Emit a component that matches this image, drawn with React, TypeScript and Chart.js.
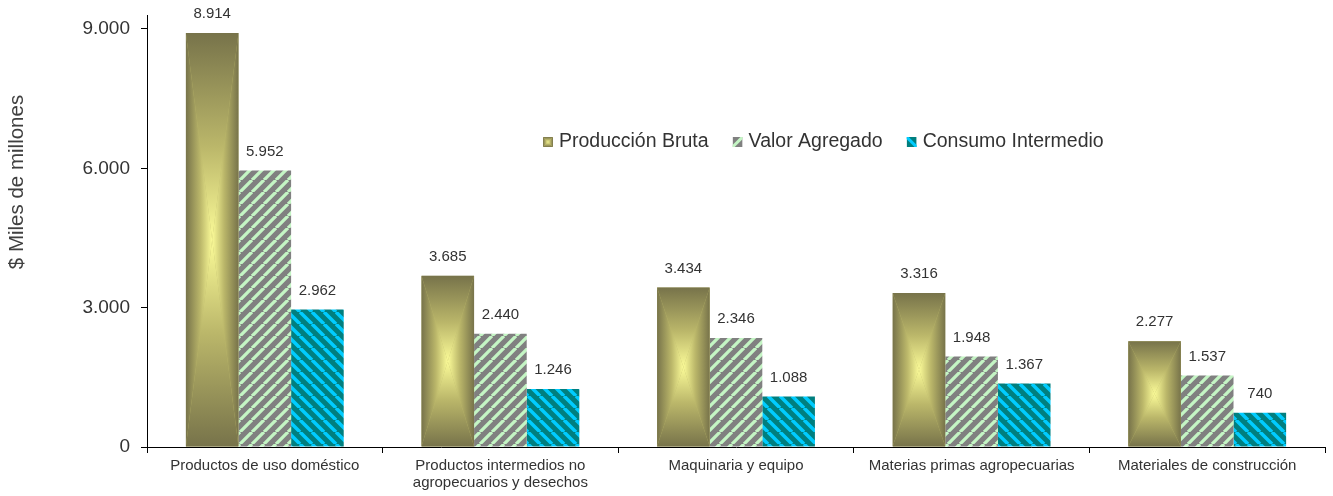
import React, { useEffect, useRef } from "react";
import { Chart, registerables } from "chart.js";

Chart.register(...registerables);

// ---------- data ----------
const categories: string[][] = [
  ["Productos de uso doméstico"],
  ["Productos intermedios no", "agropecuarios y desechos"],
  ["Maquinaria y equipo"],
  ["Materias primas agropecuarias"],
  ["Materiales de construcción"],
];
const produccionBruta = [8914, 3685, 3434, 3316, 2277];
const valorAgregado = [5952, 2440, 2346, 1948, 1537];
const consumoIntermedio = [2962, 1246, 1088, 1367, 740];
const seriesNames = ["Producción Bruta", "Valor Agregado", "Consumo Intermedio"];
const yTickValues = [0, 3000, 6000, 9000];
const yAxisTitle = "$ Miles de millones";

// ---------- styles ----------
const FONT = "'Liberation Sans', Arial, Helvetica, sans-serif";
const TEXT = "#333333";
const EDGE = "#77734a";
const MID = "#bbb76a";
const CENTER = "#fbfb98";
const GRAY = "#808080";
const MINT = "#c4f5c4";
const TEAL = "#007f7f";
const CYAN = "#00ccff";

function fmt(v: number): string {
  return String(Math.round(v)).replace(/\B(?=(\d{3})+(?!\d))/g, ".");
}

function makeStripePattern(bg: string, fg: string, size: number, lw: number, up: boolean) {
  const c = document.createElement("canvas");
  c.width = size;
  c.height = size;
  const g = c.getContext("2d")!;
  g.fillStyle = bg;
  g.fillRect(0, 0, size, size);
  g.strokeStyle = fg;
  g.lineWidth = lw;
  g.beginPath();
  for (let k = -1; k <= 1; k++) {
    if (up) {
      g.moveTo(k * size, size);
      g.lineTo(k * size + size, 0);
    } else {
      g.moveTo(k * size, 0);
      g.lineTo(k * size + size, size);
    }
  }
  g.stroke();
  const ctx = document.createElement("canvas").getContext("2d")!;
  return ctx.createPattern(c, "repeat")!;
}

function fillRectGradient(ctx: CanvasRenderingContext2D, l: number, t: number, r: number, b: number) {
  const cx = (l + r) / 2;
  const cy = (t + b) / 2;
  const stops = (g: CanvasGradient) => {
    g.addColorStop(0, EDGE);
    g.addColorStop(0.55, MID);
    g.addColorStop(1, CENTER);
    return g;
  };
  const tri = (pts: number[][], g: CanvasGradient) => {
    ctx.beginPath();
    ctx.moveTo(pts[0][0], pts[0][1]);
    ctx.lineTo(pts[1][0], pts[1][1]);
    ctx.lineTo(pts[2][0], pts[2][1]);
    ctx.closePath();
    ctx.fillStyle = g;
    ctx.fill();
  };
  ctx.save();
  ctx.beginPath();
  ctx.rect(l, t, r - l, b - t);
  ctx.clip();
  ctx.fillStyle = MID;
  ctx.fillRect(l, t, r - l, b - t);
  tri([[l, t], [cx, cy], [l, b]], stops(ctx.createLinearGradient(l, 0, cx, 0)));
  tri([[r, t], [cx, cy], [r, b]], stops(ctx.createLinearGradient(r, 0, cx, 0)));
  tri([[l, t], [r, t], [cx, cy]], stops(ctx.createLinearGradient(0, t, 0, cy)));
  tri([[l, b], [r, b], [cx, cy]], stops(ctx.createLinearGradient(0, b, 0, cy)));
  ctx.restore();
}

const decorPlugin = {
  id: "decor",
  afterDatasetsDraw(chart: any) {
    const ctx: CanvasRenderingContext2D = chart.ctx;
    // gradient bars for first series
    const meta0 = chart.getDatasetMeta(0);
    meta0.data.forEach((el: any) => {
      const p = el.getProps(["x", "y", "base", "width"], true);
      fillRectGradient(ctx, p.x - p.width / 2, p.y, p.x + p.width / 2, p.base);
    });
    // data labels
    ctx.save();
    ctx.font = `15px ${FONT}`;
    ctx.fillStyle = TEXT;
    ctx.textAlign = "center";
    ctx.textBaseline = "middle";
    chart.data.datasets.forEach((ds: any, i: number) => {
      const meta = chart.getDatasetMeta(i);
      meta.data.forEach((el: any, j: number) => {
        const p = el.getProps(["x", "y"], true);
        ctx.fillText(fmt(ds.data[j]), p.x, p.y - 19);
      });
    });
    ctx.restore();
  },
  afterDraw(chart: any) {
    const ctx: CanvasRenderingContext2D = chart.ctx;
    // y-axis title
    ctx.save();
    ctx.font = `20.5px ${FONT}`;
    ctx.fillStyle = "#404040";
    ctx.textAlign = "center";
    ctx.textBaseline = "middle";
    ctx.translate(17, 182);
    ctx.rotate(-Math.PI / 2);
    ctx.fillText(yAxisTitle, 0, 0);
    ctx.restore();

    // legend
    ctx.save();
    ctx.font = `19.5px ${FONT}`;
    ctx.fillStyle = TEXT;
    ctx.textBaseline = "middle";
    ctx.textAlign = "left";
    const yc = 142;
    let x = 543;
    const sw = 10;
    seriesNames.forEach((name, i) => {
      const sx = x;
      const sy = yc - sw / 2;
      if (i === 0) {
        fillRectGradient(ctx, sx, sy, sx + sw, sy + sw);
      } else {
        ctx.save();
        ctx.beginPath();
        ctx.rect(sx, sy, sw, sw);
        ctx.clip();
        ctx.fillStyle = i === 1 ? GRAY : TEAL;
        ctx.fillRect(sx, sy, sw, sw);
        ctx.strokeStyle = i === 1 ? MINT : CYAN;
        ctx.lineWidth = 3;
        ctx.beginPath();
        if (i === 1) {
          ctx.moveTo(sx, sy + sw);
          ctx.lineTo(sx + sw, sy);
        } else {
          ctx.moveTo(sx, sy);
          ctx.lineTo(sx + sw, sy + sw);
        }
        ctx.stroke();
        ctx.restore();
      }
      ctx.fillStyle = TEXT;
      ctx.fillText(name, sx + sw + 6, yc);
      x = sx + sw + 6 + ctx.measureText(name).width + 24;
    });
    ctx.restore();
  },
};

export default function App() {
  const ref = useRef<HTMLCanvasElement | null>(null);

  useEffect(() => {
    if (!ref.current) return;
    const greenPattern = makeStripePattern(GRAY, MINT, 12, 3.3, true);
    const bluePattern = makeStripePattern(TEAL, CYAN, 12, 3.5, false);
    const common = { barPercentage: 1, categoryPercentage: 0.67, borderWidth: 0 };
    const chart = new Chart(ref.current, {
      type: "bar",
      data: {
        labels: categories,
        datasets: [
          { label: seriesNames[0], data: produccionBruta, backgroundColor: EDGE, ...common },
          { label: seriesNames[1], data: valorAgregado, backgroundColor: greenPattern as any, ...common },
          { label: seriesNames[2], data: consumoIntermedio, backgroundColor: bluePattern as any, ...common },
        ],
      },
      options: {
        responsive: false,
        devicePixelRatio: 1,
        animation: false,
        layout: { padding: { top: 15, right: 8, left: 0, bottom: 0 } },
        plugins: {
          legend: { display: false },
          tooltip: { enabled: false },
          title: { display: false },
        },
        scales: {
          x: {
            grid: {
              display: true,
              drawOnChartArea: false,
              drawTicks: true,
              tickLength: 6,
              color: "#000000",
              offset: true,
            },
            border: { display: true, color: "#000000", width: 1 },
            ticks: {
              font: { family: FONT, size: 15, lineHeight: 1.15 },
              color: TEXT,
              padding: 4,
              maxRotation: 0,
              autoSkip: false,
            },
            afterFit: (s: any) => {
              s.height = 49;
              s.paddingLeft = 0;
              s.paddingRight = 0;
            },
          },
          y: {
            min: 0,
            max: 9300,
            afterBuildTicks: (s: any) => {
              s.ticks = yTickValues.map((v) => ({ value: v }));
            },
            grid: {
              display: true,
              drawOnChartArea: false,
              drawTicks: true,
              tickLength: 6,
              color: "#000000",
            },
            border: { display: true, color: "#000000", width: 1 },
            ticks: {
              font: { family: FONT, size: 19 },
              color: TEXT,
              padding: 11,
              callback: (v: any) => fmt(Number(v)),
            },
            afterFit: (s: any) => {
              s.width = 147;
              s.paddingTop = 0;
              s.paddingBottom = 0;
            },
          },
        },
      },
      plugins: [decorPlugin],
    });
    return () => chart.destroy();
  }, []);

  return (
    <div style={{ position: "absolute", left: 0, top: 0, width: 1333, height: 496, background: "#ffffff" }}>
      <canvas ref={ref} width={1333} height={496} />
    </div>
  );
}
